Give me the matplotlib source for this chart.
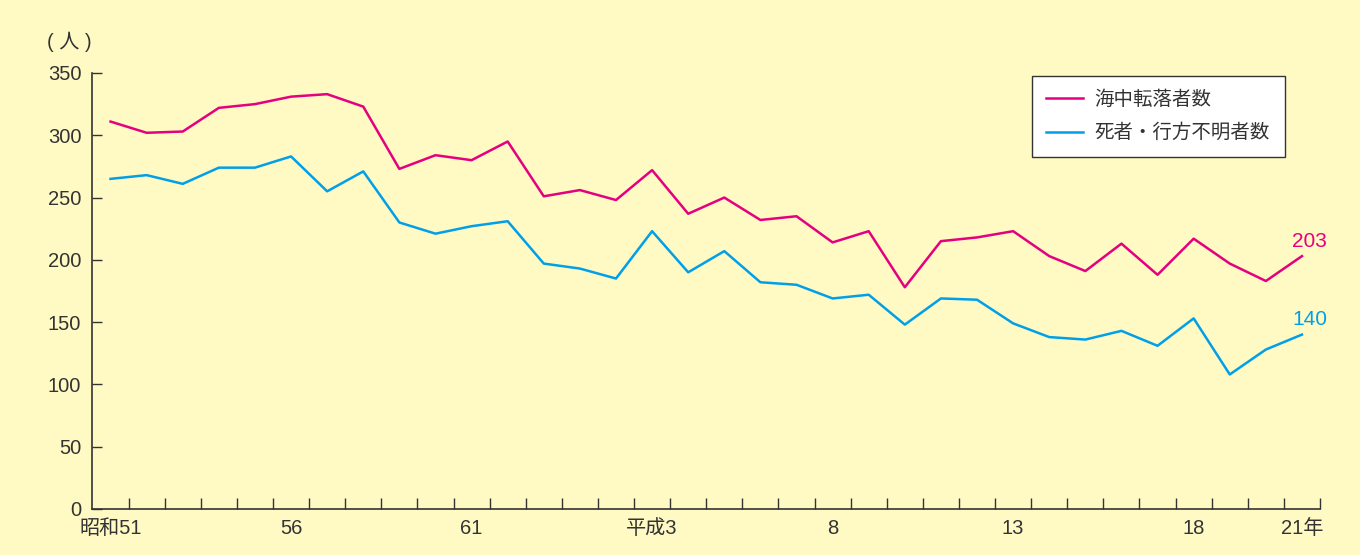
import matplotlib
matplotlib.use("Agg")
import matplotlib.pyplot as plt

plt.rcParams['font.family'] = ['Liberation Sans', 'Noto Sans CJK JP']

# 昭和51年 (1976) - 平成21年 (2009)
years = list(range(34))
tick_labels = {0: "昭和51", 5: "56", 10: "61", 15: "平成3", 20: "8",
               25: "13", 30: "18", 33: "21年"}

# 海中転落者数
fall = [311, 302, 303, 322, 325, 331, 333, 323, 273, 284,
        280, 295, 251, 256, 248, 272, 237, 250, 232, 235,
        214, 223, 178, 215, 218, 223, 203, 191, 213, 188,
        217, 197, 183, 203]
# 死者・行方不明者数
dead = [265, 268, 261, 274, 274, 283, 255, 271, 230, 221,
        227, 231, 197, 193, 185, 223, 190, 207, 182, 180,
        169, 172, 148, 169, 168, 149, 138, 136, 143, 131,
        153, 108, 128, 140]

bg = "#FFF9C4"
red = "#E4007F"
blue = "#00A0E9"
dark = "#333333"

fig = plt.figure(figsize=(13.6, 5.55), dpi=100, facecolor=bg)
ax = fig.add_axes([0.068, 0.0829, 0.9026, 0.7856], facecolor=bg)

ax.plot(years, fall, color=red, lw=1.8, label="海中転落者数")
ax.plot(years, dead, color=blue, lw=1.8, label="死者・行方不明者数")

ax.set_xlim(-0.5, 33.5)
ax.set_ylim(0, 350)

ax.spines['top'].set_visible(False)
ax.spines['right'].set_visible(False)
for s in ['left', 'bottom']:
    ax.spines[s].set_color(dark)
    ax.spines[s].set_linewidth(1.2)

ax.set_yticks(range(0, 351, 50))
ax.tick_params(axis='y', direction='in', length=7, width=1, color=dark,
               labelsize=14.5, labelcolor=dark, pad=8)

# ticks at category boundaries, labels at centres
ax.set_xticks([x + 0.5 for x in years[:-1]] + [33.5])
ax.set_xticklabels([])
ax.tick_params(axis='x', direction='in', length=8, width=1, color=dark)
ax.set_xticks(list(tick_labels.keys()), minor=True)
ax.set_xticklabels(list(tick_labels.values()), minor=True)
ax.tick_params(axis='x', which='minor', length=0, labelsize=14.5,
               labelcolor=dark, pad=7)

fig.text(47 / 1360, 1 - 42 / 555, "( 人 )", fontsize=14.5, color=dark,
         va='center', ha='left')

ax.annotate(str(fall[-1]), (33, fall[-1]), xytext=(-7, 4),
            textcoords='offset points', color=red, fontsize=15,
            ha='left', va='bottom')
ax.annotate(str(dead[-1]), (33, dead[-1]), xytext=(-7, 4),
            textcoords='offset points', color=blue, fontsize=15,
            ha='left', va='bottom')

leg = ax.legend(loc='upper left', bbox_to_anchor=(0.765, 0.993),
                borderaxespad=0, fontsize=14, frameon=True, fancybox=False,
                handlelength=1.9, borderpad=0.75, labelspacing=0.75,
                handletextpad=0.6)
leg.get_frame().set_edgecolor(dark)
leg.get_frame().set_facecolor("white")
leg.get_frame().set_linewidth(1.0)
leg.get_frame().set_alpha(1)
for t in leg.get_texts():
    t.set_color(dark)

fig.savefig("out.png", dpi=100, facecolor=bg)
